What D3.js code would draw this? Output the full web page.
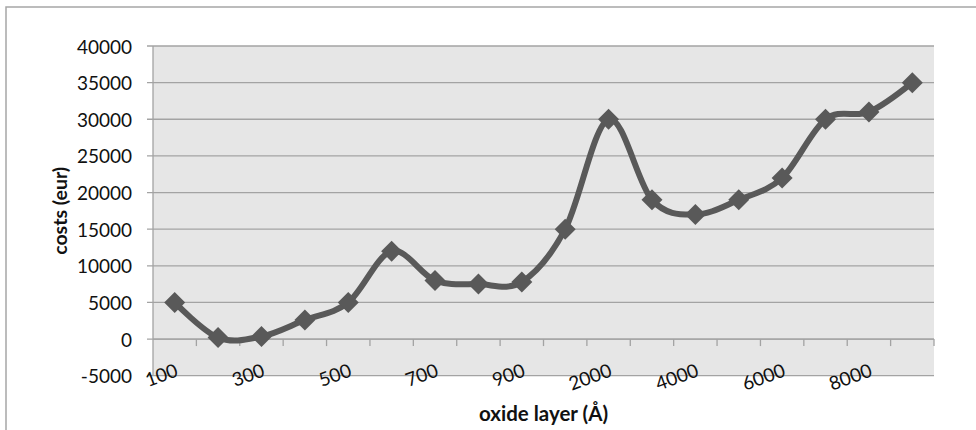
<!DOCTYPE html>
<html>
<head>
<meta charset="utf-8">
<script src="https://cdn.jsdelivr.net/npm/d3@7"></script>
<style>
  html, body { margin: 0; padding: 0; background: #fff; }
  svg { display: block; }
  text { font-family: Lato, "Open Sans", "Liberation Sans", sans-serif; fill: #111; }
</style>
</head>
<body>
<svg id="chart" width="976" height="430"></svg>
<script>
// ---- data ----
const categories = ["100","200","300","400","500","600","700","800","900","1000",
                    "2000","3000","4000","5000","6000","7000","8000","9000"];
const costs = [5000, 200, 350, 2600, 5000, 12000, 8000, 7500, 7800, 15000,
               30000, 19000, 17000, 19000, 22000, 30000, 31000, 35000];
const yTicks = [-5000, 0, 5000, 10000, 15000, 20000, 25000, 30000, 35000, 40000];
const shownLabels = ["100","300","500","700","900","2000","4000","6000","8000"];
const xTitle = "oxide layer (Å)";
const yTitle = "costs (eur)";

// ---- layout ----
const svg = d3.select("#chart");
const plot = { left: 153, right: 934, top: 46, bottom: 375.7 };
const lineColor = "#595959";
const gridColor = "#a3a3a3";

// outer frame (top and left visible)
svg.append("path")
  .attr("d", "M6,430 L6,7 L976,7")
  .attr("fill", "none").attr("stroke", "#a6a6a6").attr("stroke-width", 1.5);

const x = d3.scaleBand().domain(categories).range([plot.left, plot.right]).padding(0);
const y = d3.scaleLinear().domain([-5000, 40000]).range([plot.bottom, plot.top]);

// plot background
svg.append("rect")
  .attr("x", plot.left).attr("y", plot.top)
  .attr("width", plot.right - plot.left).attr("height", plot.bottom - plot.top)
  .attr("fill", "#e6e6e6");

// horizontal gridlines
svg.append("g").selectAll("line").data(yTicks).join("line")
  .attr("x1", plot.left - 6).attr("x2", plot.right)
  .attr("y1", d => y(d)).attr("y2", d => y(d))
  .attr("stroke", gridColor).attr("stroke-width", 1.3);

// y axis line
svg.append("line")
  .attr("x1", plot.left).attr("x2", plot.left)
  .attr("y1", plot.top).attr("y2", plot.bottom)
  .attr("stroke", gridColor).attr("stroke-width", 1.3);

// y tick labels
svg.append("g").selectAll("text").data(yTicks).join("text")
  .attr("x", 132).attr("y", d => y(d))
  .attr("text-anchor", "end").attr("dominant-baseline", "central")
  .attr("font-size", 19)
  .text(d => d);

// x axis at zero with boundary ticks
const y0 = y(0);
svg.append("line")
  .attr("x1", plot.left).attr("x2", plot.right)
  .attr("y1", y0).attr("y2", y0)
  .attr("stroke", gridColor).attr("stroke-width", 1.3);
const boundaries = categories.map(c => x(c)).concat([plot.right]);
svg.append("g").selectAll("line").data(boundaries.slice(1)).join("line")
  .attr("x1", d => d).attr("x2", d => d)
  .attr("y1", y0).attr("y2", y0 + 7)
  .attr("stroke", gridColor).attr("stroke-width", 1.3);

// x tick labels (rotated)
svg.append("g").selectAll("text").data(shownLabels).join("text")
  .attr("text-anchor", "end")
  .attr("font-size", 19)
  .attr("transform", d => {
    const cx = x(d) + x.bandwidth() / 2 + 4.5;
    return `translate(${cx},${plot.bottom}) rotate(-20)`;
  })
  .text(d => d);

// smooth line
const pts = categories.map((c, i) => [x(c) + x.bandwidth() / 2, y(costs[i])]);
svg.append("path")
  .attr("d", d3.line().curve(d3.curveCardinal.tension(0))(pts))
  .attr("fill", "none").attr("stroke", lineColor).attr("stroke-width", 6)
  .attr("stroke-linejoin", "round").attr("stroke-linecap", "round");

// diamond markers
const r = 10.5;
svg.append("g").selectAll("path").data(pts).join("path")
  .attr("d", d => `M${d[0]},${d[1] - r} L${d[0] + r},${d[1]} L${d[0]},${d[1] + r} L${d[0] - r},${d[1]} Z`)
  .attr("fill", lineColor);

// axis titles
svg.append("text")
  .attr("transform", `translate(67,${(plot.top + plot.bottom) / 2}) rotate(-90)`)
  .attr("text-anchor", "middle")
  .attr("font-size", 19.5).attr("font-weight", "bold")
  .text(yTitle);

svg.append("text")
  .attr("x", (plot.left + plot.right) / 2).attr("y", 421)
  .attr("text-anchor", "middle")
  .attr("font-size", 20.5).attr("font-weight", "bold")
  .text(xTitle);
</script>
</body>
</html>
